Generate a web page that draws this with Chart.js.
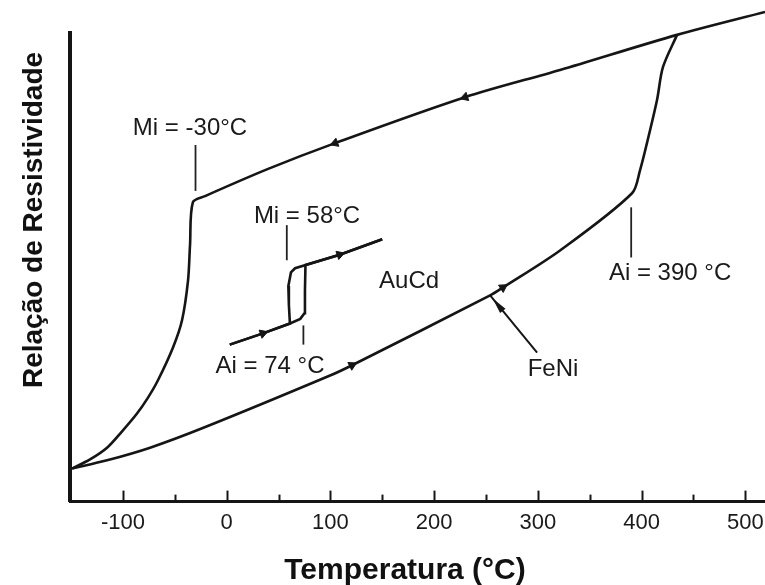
<!DOCTYPE html>
<html>
<head>
<meta charset="utf-8">
<script src="https://cdn.jsdelivr.net/npm/chart.js@4.4.1/dist/chart.umd.min.js"></script>
<style>
  html, body { margin: 0; padding: 0; background: #fff; }
  canvas { display: block; }
</style>
</head>
<body>
<canvas id="c" width="765" height="585"></canvas>
<script>
// Relação de resistividade (unidades relativas) x temperatura (°C)

// FeNi – aquecimento (ramo inferior, Ai = 390 °C)
const feniHeatT = [-149, -115.3, -73.8, -21.8, 99.7, 120.9, 254.0, 266.4, 321.4, 390.8, 398.5, 405.2, 414.9, 420.6, 434.2];
const feniHeatR = [7.05, 8.8, 11.5, 15.8, 26.9, 29.1, 44.0, 45.7, 53.6, 65.8, 70.7, 76.5, 85.7, 92.7, 99.6];

// FeNi – resfriamento (ramo superior, Mi = -30 °C)
const feniCoolT = [519, 434.2, 321.4, 229.8, 104.5, 40, -20.8, -32.5, -35.3, -37.2, -43.0, -51.7, -66.2, -75.8, -86.4, -100.8, -115.3, -131.7, -149];
const feniCoolR = [104.5, 99.6, 92.1, 86.3, 76.5, 71.0, 65.2, 63.9, 54.7, 47.2, 38.7, 32.9, 25.9, 22.2, 18.8, 15.0, 11.5, 9.0, 7.05];

// AuCd – aquecimento (Ai = 74 °C)
const aucdHeatT = [3, 35, 61, 71, 75, 75.5, 76, 109, 150];
const aucdHeatR = [33.5, 35.9, 38.0, 39.0, 40.2, 45, 50.5, 52.7, 56];

// AuCd – resfriamento (Mi = 58 °C)
const aucdCoolT = [150, 109, 66, 62, 59.5, 60, 61, 35, 3];
const aucdCoolR = [56, 52.7, 49.8, 48.9, 46, 42, 38.0, 35.9, 33.5];

// Temperaturas de transição indicadas no gráfico
const transitionLabels = ['Mi = -30°C', 'Mi = 58°C', 'Ai = 74 °C', 'Ai = 390 °C'];
const transitionTemps  = [-30, 58, 74, 390];

// Rótulos do eixo de temperatura
const tempTickValues = [-100, 0, 100, 200, 300, 400, 500];

const pts = (T, R) => T.map((t, i) => ({ x: t, y: R[i] }));

const FONT = '"Liberation Sans", Arial, Helvetica, sans-serif';
const INK = '#151515';

// Direction of the small arrowheads drawn on the curves (along the data order)
function arrowRotation(ctx) {
  const ds = ctx.dataset, i = ctx.dataIndex, d = ds.data;
  const xs = ctx.chart.scales.x, ys = ctx.chart.scales.y;
  const a = d[Math.max(i - 1, 0)], b = d[Math.min(i + 1, d.length - 1)];
  const dx = xs.getPixelForValue(b.x) - xs.getPixelForValue(a.x);
  const dy = ys.getPixelForValue(b.y) - ys.getPixelForValue(a.y);
  return Math.atan2(dy, dx) * 180 / Math.PI + 90;
}
function arrowRadius(ctx) {
  return (ctx.dataset.arrowAt || []).includes(ctx.dataIndex) ? 5 : 0;
}

function curve(data, tension, arrowAt) {
  return {
    data,
    arrowAt,
    borderColor: INK,
    borderWidth: 2.6,
    backgroundColor: INK,
    pointStyle: 'triangle',
    pointRadius: arrowRadius,
    pointHoverRadius: arrowRadius,
    pointRotation: arrowRotation,
    pointBorderWidth: 1,
    pointBorderColor: INK,
    pointBackgroundColor: INK,
    tension,
    fill: false,
    clip: false
  };
}

// label position (T, R) and marker span (R from, R to) of each transition note
const notePlacement = [
  { tx: -35.3, ty: 78.2, r1: 66.3, r2: 76.1 },
  { tx: 77.5,  ty: 59.4, r1: 51.5, r2: 59.0 },
  { tx: 41.8,  ty: 27.4, r1: 33.5, r2: 37.6 },
  { tx: 427.5, ty: 47.2, r1: 52.1, r2: 62.8 }
];

const decor = {
  id: 'decor',
  afterDraw(chart) {
    const { ctx, chartArea: a } = chart;
    const xs = chart.scales.x, ys = chart.scales.y;
    ctx.save();

    // tick marks pointing into the plot
    ctx.strokeStyle = INK;
    ctx.lineWidth = 2;
    xs.ticks.forEach(t => {
      const v = t.value;
      if (v <= -150 || v % 50 !== 0) return;
      const px = Math.round(xs.getPixelForValue(v)) + 0.5;
      const len = v % 100 === 0 ? 11 : 7;
      ctx.beginPath();
      ctx.moveTo(px, a.bottom);
      ctx.lineTo(px, a.bottom - len);
      ctx.stroke();
    });

    // transition temperature markers and labels
    ctx.fillStyle = '#1a1a1a';
    ctx.font = '24px ' + FONT;
    ctx.textAlign = 'center';
    ctx.textBaseline = 'alphabetic';
    transitionTemps.forEach((T, i) => {
      const p = notePlacement[i];
      const px = xs.getPixelForValue(T);
      ctx.lineWidth = 1.8;
      ctx.strokeStyle = '#222';
      ctx.beginPath();
      ctx.moveTo(px, ys.getPixelForValue(p.r1));
      ctx.lineTo(px, ys.getPixelForValue(p.r2));
      ctx.stroke();
      ctx.fillText(transitionLabels[i], xs.getPixelForValue(p.tx), ys.getPixelForValue(p.ty));
    });

    // alloy names
    ctx.fillText('AuCd', xs.getPixelForValue(175.9), ys.getPixelForValue(45.5));
    ctx.fillText('FeNi', xs.getPixelForValue(314.6), ys.getPixelForValue(26.9));

    // FeNi pointer with arrowhead on the heating curve
    const x0 = xs.getPixelForValue(299.3), y0 = ys.getPixelForValue(31.8);
    const x1 = xs.getPixelForValue(254.0), y1 = ys.getPixelForValue(44.0);
    ctx.strokeStyle = INK;
    ctx.lineWidth = 2;
    ctx.beginPath();
    ctx.moveTo(x0, y0);
    ctx.lineTo(x1, y1);
    ctx.stroke();
    const ang = Math.atan2(y1 - y0, x1 - x0);
    const hx = x1 - Math.cos(ang) * 4, hy = y1 - Math.sin(ang) * 4;
    ctx.fillStyle = INK;
    ctx.beginPath();
    ctx.moveTo(hx, hy);
    ctx.lineTo(hx - Math.cos(ang) * 16 + Math.sin(ang) * 3.5, hy - Math.sin(ang) * 16 - Math.cos(ang) * 3.5);
    ctx.lineTo(hx - Math.cos(ang) * 16 - Math.sin(ang) * 3.5, hy - Math.sin(ang) * 16 + Math.cos(ang) * 3.5);
    ctx.closePath();
    ctx.fill();

    // axis titles
    ctx.fillStyle = '#111';
    ctx.font = 'bold 30px ' + FONT;
    ctx.textAlign = 'center';
    ctx.fillText('Temperatura (°C)', 405, 579);
    ctx.font = 'bold 28px ' + FONT;
    ctx.save();
    ctx.translate(42, 220);
    ctx.rotate(-Math.PI / 2);
    ctx.fillText('Relação de Resistividade', 0, 0);
    ctx.restore();

    ctx.restore();
  }
};

new Chart(document.getElementById('c'), {
  type: 'line',
  data: {
    datasets: [
      curve(pts(feniHeatT, feniHeatR), 0.3, [5, 7]),
      curve(pts(feniCoolT, feniCoolR), 0.3, [3, 4]),
      curve(pts(aucdHeatT, aucdHeatR), 0, [1, 7]),
      curve(pts(aucdCoolT, aucdCoolR), 0, [])
    ]
  },
  options: {
    responsive: false,
    animation: false,
    events: [],
    layout: { padding: { left: 70, right: 0, top: 33, bottom: 41 } },
    plugins: { legend: { display: false }, tooltip: { enabled: false } },
    scales: {
      x: {
        type: 'linear',
        position: 'bottom',
        min: -151,
        max: 519,
        grid: { display: false, drawTicks: false },
        border: { display: true, color: INK, width: 3 },
        ticks: {
          stepSize: 50,
          includeBounds: false,
          maxTicksLimit: 30,
          autoSkip: false,
          maxRotation: 0,
          padding: 8,
          color: '#1a1a1a',
          font: { family: FONT, size: 22 },
          callback: v => tempTickValues.includes(v) ? (v < 0 ? '-' + Math.abs(v) : String(v)) : ''
        },
        afterFit: s => { s.paddingLeft = 0; s.paddingRight = 0; }
      },
      y: {
        type: 'linear',
        min: 0,
        max: 100,
        grid: { display: false, drawTicks: false },
        border: { display: true, color: INK, width: 4 },
        ticks: { display: false }
      }
    }
  },
  plugins: [decor]
});
</script>
</body>
</html>
